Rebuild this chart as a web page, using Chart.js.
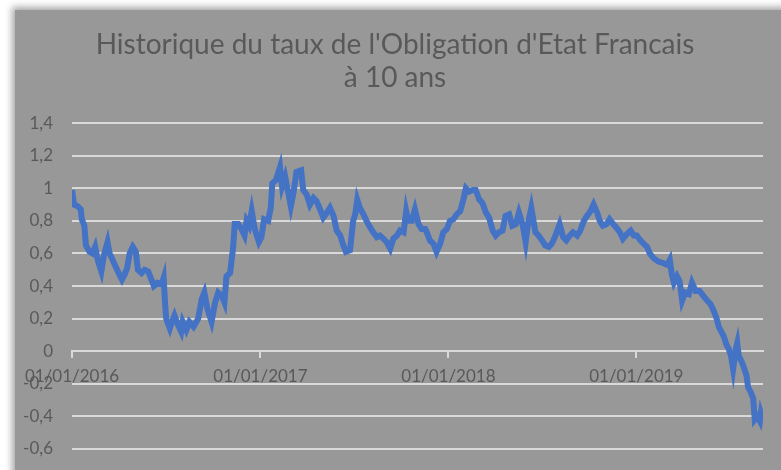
<!DOCTYPE html>
<html>
<head>
<meta charset="utf-8">
<script src="https://cdn.jsdelivr.net/npm/chart.js@4.4.0/dist/chart.umd.min.js"></script>
<style>
  html, body { margin: 0; padding: 0; background: #fff; }
  #wrap { position: relative; width: 781px; height: 470px; overflow: hidden; }
  #panel { position: absolute; left: 15px; top: 10px; right: -10px; bottom: -10px; background: #989898; box-shadow: -3px -3px 7px rgba(0,0,0,0.35); }
  #c { position: absolute; left: 0; top: 0; }
</style>
</head>
<body>
<div id="wrap"><div id="panel"></div><canvas id="c" width="781" height="470"></canvas></div>
<script>
// dates + taux
const dates = [
  "2016-01-01","2016-01-05","2016-01-12","2016-01-18","2016-01-20","2016-01-25","2016-01-28","2016-02-04","2016-02-10","2016-02-15",
  "2016-02-20","2016-02-27","2016-03-03","2016-03-10","2016-03-14","2016-03-20","2016-03-27","2016-04-02","2016-04-07","2016-04-12",
  "2016-04-17","2016-04-22","2016-04-28","2016-05-04","2016-05-08","2016-05-15","2016-05-21","2016-05-28","2016-06-02","2016-06-08",
  "2016-06-15","2016-06-23","2016-06-27","2016-06-30","2016-07-02","2016-07-09","2016-07-13","2016-07-18","2016-07-25","2016-07-31",
  "2016-08-03","2016-08-10","2016-08-16","2016-08-24","2016-09-02","2016-09-09","2016-09-14","2016-09-20","2016-09-28","2016-10-05",
  "2016-10-11","2016-10-18","2016-10-23","2016-10-27","2016-11-03","2016-11-09","2016-11-12","2016-11-19","2016-11-25","2016-12-01",
  "2016-12-05","2016-12-10","2016-12-15","2016-12-21","2016-12-29","2017-01-03","2017-01-08","2017-01-16","2017-01-21","2017-01-24",
  "2017-01-31","2017-02-08","2017-02-12","2017-02-18","2017-02-23","2017-03-01","2017-03-06","2017-03-12","2017-03-21","2017-03-25",
  "2017-04-01","2017-04-07","2017-04-14","2017-04-20","2017-04-27","2017-05-03","2017-05-10","2017-05-16","2017-05-23","2017-05-29",
  "2017-06-05","2017-06-11","2017-06-16","2017-06-24","2017-06-30","2017-07-04","2017-07-08","2017-07-13","2017-07-20","2017-07-26",
  "2017-08-02","2017-08-08","2017-08-15","2017-08-21","2017-08-28","2017-09-03","2017-09-10","2017-09-16","2017-09-23","2017-09-29",
  "2017-10-06","2017-10-11","2017-10-15","2017-10-22","2017-10-28","2017-11-04","2017-11-10","2017-11-17","2017-11-20","2017-11-26",
  "2017-12-03","2017-12-09","2017-12-16","2017-12-22","2017-12-29","2018-01-04","2018-01-11","2018-01-17","2018-01-24","2018-01-30",
  "2018-02-04","2018-02-10","2018-02-17","2018-02-23","2018-03-02","2018-03-08","2018-03-15","2018-03-21","2018-03-28","2018-04-03",
  "2018-04-09","2018-04-16","2018-04-22","2018-04-29","2018-05-05","2018-05-12","2018-05-18","2018-05-25","2018-05-31","2018-06-05",
  "2018-06-11","2018-06-19","2018-06-25","2018-07-02","2018-07-08","2018-07-15","2018-07-21","2018-07-28","2018-08-05","2018-08-12",
  "2018-08-18","2018-08-25","2018-08-31","2018-09-08","2018-09-14","2018-09-21","2018-09-27","2018-10-04","2018-10-10","2018-10-17",
  "2018-10-22","2018-10-28","2018-11-04","2018-11-10","2018-11-17","2018-11-23","2018-11-30","2018-12-06","2018-12-14","2018-12-21",
  "2018-12-27","2019-01-02","2019-01-09","2019-01-15","2019-01-22","2019-01-27","2019-02-04","2019-02-13","2019-02-23","2019-03-02",
  "2019-03-07","2019-03-11","2019-03-15","2019-03-21","2019-03-26","2019-03-31","2019-04-06","2019-04-13","2019-04-19","2019-04-26",
  "2019-05-04","2019-05-11","2019-05-19","2019-05-25","2019-05-31","2019-06-06","2019-06-10","2019-06-15","2019-06-20","2019-06-25",
  "2019-06-30","2019-07-04","2019-07-08","2019-07-13","2019-07-16","2019-07-19","2019-07-24","2019-07-29","2019-08-03","2019-08-06",
  "2019-08-11","2019-08-16","2019-08-19","2019-08-24","2019-08-29","2019-08-31","2019-09-04"
];

const taux = [
  0.99,0.90,0.89,0.87,0.81,0.77,0.65,0.61,0.60,0.64,
  0.56,0.49,0.59,0.67,0.60,0.56,0.51,0.47,0.44,0.47,
  0.51,0.60,0.64,0.61,0.50,0.48,0.50,0.49,0.45,0.40,
  0.42,0.41,0.45,0.28,0.20,0.14,0.18,0.22,0.16,0.12,
  0.18,0.13,0.18,0.15,0.20,0.32,0.36,0.26,0.18,0.30,
  0.36,0.34,0.30,0.46,0.48,0.64,0.78,0.78,0.75,0.71,
  0.80,0.77,0.86,0.75,0.67,0.70,0.81,0.80,0.88,1.03,
  1.05,1.13,1.01,1.07,0.99,0.89,0.97,1.10,1.11,0.99,
  0.96,0.90,0.94,0.92,0.87,0.82,0.85,0.88,0.83,0.74,
  0.71,0.65,0.61,0.62,0.80,0.84,0.93,0.88,0.84,0.80,
  0.76,0.73,0.70,0.71,0.69,0.67,0.63,0.69,0.71,0.74,
  0.73,0.86,0.80,0.80,0.87,0.78,0.75,0.75,0.73,0.68,
  0.66,0.61,0.66,0.73,0.75,0.80,0.81,0.84,0.86,0.93,
  1.00,0.98,0.99,0.99,0.93,0.91,0.85,0.82,0.74,0.71,
  0.73,0.74,0.83,0.84,0.77,0.78,0.85,0.78,0.67,0.79,
  0.88,0.73,0.71,0.68,0.65,0.64,0.66,0.71,0.78,0.70,
  0.68,0.71,0.73,0.71,0.74,0.80,0.83,0.86,0.90,0.85,
  0.80,0.77,0.78,0.81,0.78,0.76,0.73,0.69,0.72,0.74,
  0.71,0.71,0.68,0.66,0.64,0.60,0.57,0.55,0.54,0.53,
  0.56,0.47,0.42,0.46,0.43,0.31,0.36,0.35,0.42,0.37,
  0.37,0.34,0.31,0.29,0.25,0.20,0.15,0.12,0.09,0.04,
  0.01,-0.03,-0.11,0.01,0.05,-0.03,-0.06,-0.10,-0.15,-0.22,
  -0.25,-0.29,-0.42,-0.40,-0.43,-0.38,-0.42
];

const tickDates = ["2016-01-01", "2017-01-01", "2018-01-01", "2019-01-01"];
const tickLabels = ["01/01/2016", "01/01/2017", "01/01/2018", "01/01/2019"];

const titre = ["Historique du taux de l'Obligation d'Etat Francais", "à 10 ans"];

const dayOf = s => (Date.UTC(+s.slice(0, 4), +s.slice(5, 7) - 1, +s.slice(8, 10)) - Date.UTC(2016, 0, 1)) / 86400000;

const points = dates.map((d, i) => ({ x: dayOf(d), y: taux[i] }));
const gris = "#595959";
const grille = "#d9d9d9";

// le titre est centré sur le cadre gris, pas sur tout le canvas
const decaleTitre = {
  id: "decaleTitre",
  afterLayout: c => { if (c.titleBlock) c.titleBlock.left += 12; }
};

new Chart(document.getElementById("c"), {
  type: "line",
  data: {
    datasets: [{
      data: points,
      borderColor: "#4472c4",
      borderWidth: 6,
      pointRadius: 0,
      tension: 0,
      fill: false
    }]
  },
  options: {
    responsive: false,
    animation: false,
    devicePixelRatio: 1,
    layout: { padding: { left: 15, right: 18, top: 0, bottom: 21 } },
    plugins: {
      legend: { display: false },
      tooltip: { enabled: false },
      title: {
        display: true,
        text: titre,
        color: gris,
        font: { family: "Lato", size: 28, weight: "normal", lineHeight: 1.18 },
        padding: { top: 28, bottom: 29 }
      }
    },
    scales: {
      x: {
        type: "linear",
        position: { y: 0 },
        min: 0,
        max: dayOf(dates[dates.length - 1]),
        afterBuildTicks: s => { s.ticks = tickDates.map(d => ({ value: dayOf(d) })); },
        grid: { drawOnChartArea: false, drawTicks: true, tickLength: 6, color: grille, lineWidth: 2 },
        border: { display: true, color: grille, width: 2 },
        ticks: {
          autoSkip: false,
          maxRotation: 0,
          padding: 9,
          color: gris,
          font: { family: "Lato", size: 17 },
          callback: (v, i) => tickLabels[i]
        }
      },
      y: {
        min: -0.6,
        max: 1.4,
        afterFit: s => { s.width = 57; s.paddingTop = 0; s.paddingBottom = 0; },
        grid: { color: grille, lineWidth: 2, drawTicks: false },
        border: { display: false },
        ticks: {
          stepSize: 0.2,
          padding: 19,
          color: gris,
          font: { family: "Lato", size: 17 },
          callback: v => String(Math.round(v * 10) / 10).replace(".", ",")
        }
      }
    }
  },
  plugins: [decaleTitre]
});
</script>
</body>
</html>
